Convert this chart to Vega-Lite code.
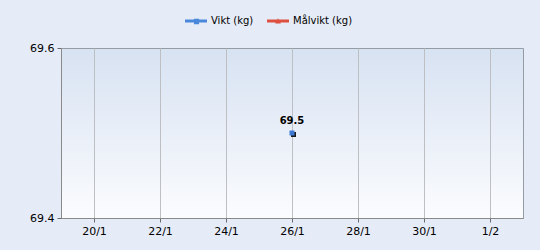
{
  "$schema": "https://vega.github.io/schema/vega-lite/v6.json",
  "autosize": {"type": "none"},
  "width": 462,
  "height": 170,
  "padding": {"left": 61, "top": 48, "right": 17, "bottom": 32},
  "background": "#e6ecf7",
  "config": {
    "font": "DejaVu Sans",
    "view": {
      "stroke": "#959ca4",
      "strokeWidth": 1,
      "fill": {"gradient": "linear", "x1": 0, "y1": 0, "x2": 0, "y2": 1,
        "stops": [{"offset": 0, "color": "#d7e2f2"}, {"offset": 1, "color": "#fbfcfe"}]}
    },
    "axis": {
      "labelFont": "DejaVu Sans",
      "labelFontSize": 11,
      "labelColor": "#000000",
      "domainColor": "#8a8a8a",
      "tickColor": "#6a6a6a",
      "tickSize": 4,
      "labelFlush": false,
      "labelOverlap": false,
      "title": null
    }
  },
  "datasets": {
    "weights": [
      {"date": "2020-01-26", "serie": "Vikt (kg)", "value": 69.5}
    ]
  },
  "data": {"name": "weights"},
  "encoding": {
    "x": {
      "field": "date", "type": "temporal",
      "scale": {"type": "utc", "domain": [{"year": 2020, "month": 1, "date": 19, "utc": true}, {"year": 2020, "month": 2, "date": 2, "utc": true}], "nice": false},
      "axis": {
        "values": [
          {"year": 2020, "month": 1, "date": 20, "utc": true},
          {"year": 2020, "month": 1, "date": 22, "utc": true},
          {"year": 2020, "month": 1, "date": 24, "utc": true},
          {"year": 2020, "month": 1, "date": 26, "utc": true},
          {"year": 2020, "month": 1, "date": 28, "utc": true},
          {"year": 2020, "month": 1, "date": 30, "utc": true},
          {"year": 2020, "month": 2, "date": 1, "utc": true}
        ],
        "labelExpr": "utcFormat(datum.value, '%-d/%-m')",
        "grid": true,
        "gridColor": "#bdbfc2",
        "gridOpacity": 1,
        "labelPadding": 3,
        "labelAngle": 0
      }
    },
    "y": {
      "field": "value", "type": "quantitative",
      "scale": {"domain": [69.4, 69.6], "zero": false, "nice": false},
      "axis": {"values": [69.4, 69.6], "format": ".1f", "grid": false, "labelPadding": 3}
    }
  },
  "layer": [
    {
      "mark": {"type": "point", "shape": "square", "filled": true, "size": 25, "color": "#1a1a1a", "opacity": 1, "xOffset": 1.5, "yOffset": 1.5}
    },
    {
      "mark": {"type": "point", "shape": "square", "filled": true, "size": 25, "color": "#3d7ad6", "opacity": 1}
    },
    {
      "mark": {"type": "text", "dy": -12, "fontSize": 10, "font": "DejaVu Sans", "fontWeight": 600, "color": "#000000"},
      "encoding": {"text": {"field": "value", "type": "quantitative", "format": ".1f"}}
    },
    {
      "mark": {"type": "point", "filled": true, "opacity": 0},
      "encoding": {
        "color": {
          "field": "serie", "type": "nominal",
          "scale": {"domain": ["Vikt (kg)", "Målvikt (kg)"], "range": ["#4a88dc", "#dd4f3f"]},
          "legend": {
            "orient": "none", "legendX": 124, "legendY": -38, "direction": "horizontal",
            "title": null, "symbolSize": 484, "symbolOpacity": 1, "symbolStrokeWidth": 0,
            "labelFont": "DejaVu Sans", "labelFontSize": 10, "labelColor": "#000000",
            "labelOffset": 4, "columnPadding": 13
          }
        },
        "shape": {
          "field": "serie", "type": "nominal",
          "scale": {"domain": ["Vikt (kg)", "Målvikt (kg)"], "range": [
            "M-1,-0.14H1V0.14H-1Z M-0.18,-0.2H0.28V0.3H-0.18Z",
            "M-1,-0.14H1V0.14H-1Z M-0.26,0.22L0,-0.24L0.26,0.22Z"
          ]},
          "legend": {
            "orient": "none", "legendX": 124, "legendY": -38, "direction": "horizontal",
            "title": null, "symbolSize": 484, "symbolOpacity": 1, "symbolStrokeWidth": 0,
            "labelFont": "DejaVu Sans", "labelFontSize": 10, "labelColor": "#000000",
            "labelOffset": 4, "columnPadding": 13
          }
        }
      }
    }
  ]
}
